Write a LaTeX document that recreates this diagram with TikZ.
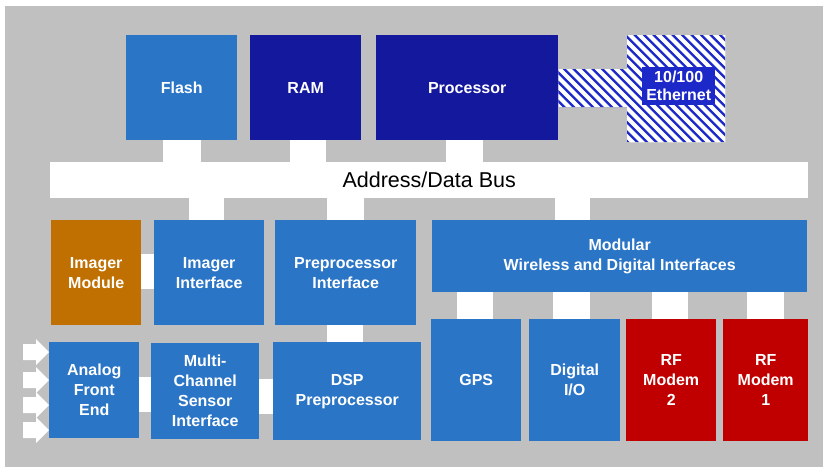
\documentclass[tikz,border=0pt]{standalone}
\usepackage{fontspec}
\setmainfont{Liberation Sans}
\usetikzlibrary{positioning}
\definecolor{blkblue}{RGB}{43,117,198}
\definecolor{navy}{RGB}{20,24,156}
\definecolor{ochre}{RGB}{192,112,0}
\definecolor{rfred}{RGB}{192,0,0}
\definecolor{panel}{RGB}{192,192,192}
\definecolor{hatchblue}{RGB}{28,40,200}
\tikzset{
  blk/.style={rectangle, inner sep=0pt, anchor=north west, align=center, text=white, fill=blkblue, font=\fontsize{16}{20}\selectfont\bfseries},
  bar/.style={fill=white},
  stripe/.style={draw=white, line width=3.9pt},
  inarrow/.style={fill=white}
}

\begin{document}
\begin{tikzpicture}[x=1pt, y=-1pt]
\useasboundingbox (0,0) rectangle (823,467);
\fill [white] (0,0) rectangle (823,467);
\fill [panel] (5,6) rectangle (823,467);
\node (flash) at (126,35) [blk, minimum width=111, minimum height=105] {Flash};
\node (ram) at (250,35) [blk, fill=navy, minimum width=111, minimum height=105] {RAM};
\node (proc) at (376,35) [blk, fill=navy, minimum width=182, minimum height=105] {Processor};
\node (eth) at (627,35) [blk, fill=none, minimum width=98, minimum height=107] {};
\node (bus) at (50,162) [blk, fill=white, text=black, minimum width=758, minimum height=36, font=\fontsize{21.5}{24}\selectfont] {Address/Data Bus};
\node (imgmod) at (51,220) [blk, fill=ochre, minimum width=90, minimum height=105] {Imager\\Module};
\node (imgif) at (154,220) [blk, minimum width=110, minimum height=105] {Imager\\Interface};
\node (preif) at (275,220) [blk, minimum width=141, minimum height=105] {Preprocessor\\Interface};
\node (modular) at (432,220) [blk, minimum width=375, minimum height=72] {Modular\\Wireless and Digital Interfaces};
\node (afe) at (49,342) [blk, minimum width=90, minimum height=96] {Analog\\Front\\End};
\node (mcsi) at (151,343) [blk, minimum width=108, minimum height=96] {Multi-\\Channel\\Sensor\\Interface};
\node (dsp) at (273,342) [blk, minimum width=148, minimum height=98] {DSP\\Preprocessor};
\node (gps) at (431,319) [blk, minimum width=90, minimum height=122] {GPS};
\node (dio) at (529,319) [blk, minimum width=91, minimum height=122] {Digital\\I/O};
\node (rftwo) at (626,319) [blk, fill=rfred, minimum width=90, minimum height=122] {RF\\Modem\\2};
\node (rfone) at (723,319) [blk, fill=rfred, minimum width=85, minimum height=122] {RF\\Modem\\1};
\begin{scope}
\clip (eth.north west) rectangle (eth.south east) (proc.east |- 0,69) rectangle (eth.west |- 0,107);
\fill [hatchblue] (proc.east |- 0,35) rectangle (eth.south east);
\foreach \i in {-14,...,26}
  \draw [stripe] (520+\i*9.5,20) -- ++(140,140);
\end{scope}
\node (ethlbl) at (642,67) [blk, fill=hatchblue, minimum width=73, minimum height=38, font=\fontsize{16}{18}\selectfont\bfseries] {10/100\\Ethernet};
\fill [bar] (163,0 |- flash.south) rectangle (201,0 |- bus.north);
\fill [bar] (290,0 |- ram.south) rectangle (326,0 |- bus.north);
\fill [bar] (446,0 |- proc.south) rectangle (483,0 |- bus.north);
\fill [bar] (189,0 |- bus.south) rectangle (224,0 |- imgif.north);
\fill [bar] (327,0 |- bus.south) rectangle (364,0 |- preif.north);
\fill [bar] (555,0 |- bus.south) rectangle (590,0 |- modular.north);
\fill [bar] (imgmod.east |- 0,254) rectangle (imgif.west |- 0,289);
\fill [bar] (327,0 |- preif.south) rectangle (363,0 |- dsp.north);
\fill [bar] (afe.east |- 0,377) rectangle (mcsi.west |- 0,412);
\fill [bar] (mcsi.east |- 0,379) rectangle (dsp.west |- 0,414);
\fill [bar] (457,0 |- modular.south) rectangle (493,0 |- gps.north);
\fill [bar] (553,0 |- modular.south) rectangle (590,0 |- dio.north);
\fill [bar] (652,0 |- modular.south) rectangle (688,0 |- rftwo.north);
\fill [bar] (747,0 |- modular.south) rectangle (784,0 |- rfone.north);
\foreach \y in {352,380,405,430}
  \fill [inarrow] (23,\y-8) -- (36,\y-8) -- (36,\y-13) -- (afe.west |- 0,\y) -- (36,\y+13) -- (36,\y+8) -- (23,\y+8) -- cycle;
\end{tikzpicture}
\end{document}
